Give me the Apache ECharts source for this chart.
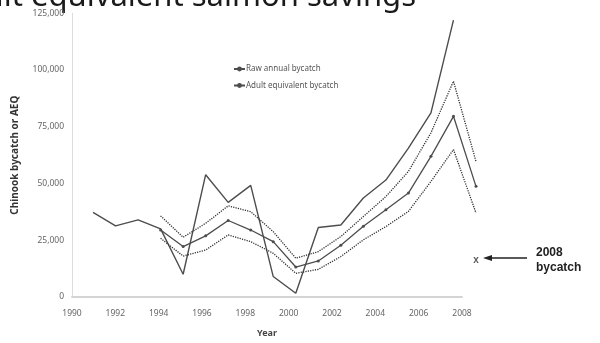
<!DOCTYPE html>
<html>
<head>
<meta charset="utf-8">
<script src="https://cdn.jsdelivr.net/npm/echarts@6/dist/echarts.min.js"></script>
<style>
  html, body { margin: 0; padding: 0; background: #fff; overflow: hidden; }
  #chart { width: 600px; height: 343px; }
</style>
</head>
<body>
<div id="chart"></div>
<script>
// Chinook salmon bycatch by year, with adult-equivalent (AEQ) estimate and its bounds
const years = [1991, 1992, 1993, 1994, 1995, 1996, 1997, 1998, 1999, 2000,
               2001, 2002, 2003, 2004, 2005, 2006, 2007, 2008];
const rawBycatch = [39400, 33600, 36200, 32300, 12800, 55600, 43700, 51000, 11800,
                    4600, 32900, 34000, 45600, 53300, 67000, 82200, 122100];
const aeqYears = [1994, 1995, 1996, 1997, 1998, 1999, 2000, 2001,
                  2002, 2003, 2004, 2005, 2006, 2007, 2008];
const aeqBycatch = [31800, 24700, 29300, 35900, 31800, 26800, 15900, 18500,
                    25300, 33400, 40500, 47700, 63500, 80700, 50600];
const aeqUpper = [37900, 28700, 34700, 42200, 39700, 31100, 19700, 22500,
                  29000, 37600, 46200, 57000, 73600, 95800, 61300];
const aeqLower = [28300, 20600, 23200, 29700, 26800, 21800, 13200, 14900,
                  20400, 27600, 33300, 39800, 52700, 66400, 39100];
const bycatch2008 = [[2008, 19000]];
const yTicks = [0, 25000, 50000, 75000, 100000, 125000];
const xTicks = [1990, 1992, 1994, 1996, 1998, 2000, 2002, 2004, 2006, 2008];

const pair = (xs, ys) => ys.map((v, i) => [xs[i], v]);
const fmt = v => v.toLocaleString('en-US');

const chart = echarts.init(document.getElementById('chart'), null, { renderer: 'canvas', width: 600, height: 343 });
const lineCol = '#4d4d4d';
const dotCol = '#2e2e2e';
const labelCol = '#666';

chart.setOption({
  animation: false,
  backgroundColor: '#fff',
  textStyle: { fontFamily: 'Noto Sans' },
  grid: [
    { left: 72, width: 390, top: 13.3, height: 290.7 },
    { left: 70.5, width: 405.5, top: 13.3, height: 290.7 }
  ],
  xAxis: [
    {
      gridIndex: 0, type: 'value', min: xTicks[0], max: xTicks[xTicks.length - 1], interval: 2,
      name: 'Year', nameLocation: 'middle', nameGap: 32,
      nameTextStyle: { fontSize: 9, fontWeight: 'bold', color: '#444' },
      axisLine: { lineStyle: { color: '#d4d4d4', width: 2 } },
      axisTick: { show: false }, splitLine: { show: false },
      axisLabel: { fontSize: 8.5, color: labelCol, margin: 12, formatter: v => String(v) }
    },
    { gridIndex: 1, type: 'value', min: 1990, max: 2008, show: false, splitLine: { show: false } }
  ],
  yAxis: [
    {
      gridIndex: 0, type: 'value', min: yTicks[0], max: yTicks[yTicks.length - 1], interval: 25000,
      name: 'Chinook bycatch or AEQ', nameLocation: 'middle', nameGap: 52, nameRotate: 90,
      nameTextStyle: { fontSize: 10, fontWeight: 'bold', color: '#333' },
      axisLine: { show: true, lineStyle: { color: '#dcdcdc', width: 1 } },
      axisTick: { show: false }, splitLine: { show: false },
      axisLabel: { fontSize: 8.5, color: labelCol, margin: 8, formatter: v => fmt(v) }
    },
    { gridIndex: 1, type: 'value', min: 0, max: 125000, show: false, splitLine: { show: false } }
  ],
  legend: {
    orient: 'vertical', left: 228, top: 60, itemWidth: 11, itemHeight: 6, itemGap: 8.5,
    textStyle: { fontSize: 8, color: '#555', padding: [0, 0, 0, -4] },
    data: ['Raw annual bycatch', 'Adult equivalent bycatch']
  },
  series: [
    {
      name: 'Raw annual bycatch', type: 'line', xAxisIndex: 1, yAxisIndex: 1,
      data: pair(years, rawBycatch), symbol: 'none',
      lineStyle: { color: lineCol, width: 1.4 }, itemStyle: { color: lineCol }
    },
    {
      name: 'AEQ upper', type: 'line', xAxisIndex: 1, yAxisIndex: 1,
      data: pair(aeqYears, aeqUpper), symbol: 'none',
      lineStyle: { color: dotCol, width: 1.3, type: [1.2, 1.2] }
    },
    {
      name: 'Adult equivalent bycatch', type: 'line', xAxisIndex: 1, yAxisIndex: 1,
      data: pair(aeqYears, aeqBycatch), symbol: 'circle', symbolSize: 3, showSymbol: true,
      lineStyle: { color: lineCol, width: 1.3 }, itemStyle: { color: lineCol }
    },
    {
      name: 'AEQ lower', type: 'line', xAxisIndex: 1, yAxisIndex: 1,
      data: pair(aeqYears, aeqLower), symbol: 'none',
      lineStyle: { color: dotCol, width: 1.3, type: [1.2, 1.2] }
    },
    {
      name: '2008 bycatch', type: 'scatter', xAxisIndex: 1, yAxisIndex: 1,
      data: bycatch2008, symbol: 'circle', symbolSize: 1,
      itemStyle: { color: 'rgba(0,0,0,0)' },
      label: {
        show: true, position: 'inside', formatter: 'x',
        fontSize: 10, fontWeight: 'bold', color: '#333', fontFamily: 'Liberation Sans'
      }
    }
  ],
  graphic: [
    {
      type: 'text', right: 184, top: -18,
      style: {
        text: 'Adult equivalent salmon savings', fontSize: 31,
        fontFamily: 'Noto Sans', fill: '#1a1a1a'
      }
    },
    {
      type: 'line', shape: { x1: 490, y1: 258, x2: 527, y2: 258 },
      style: { stroke: '#222', lineWidth: 1.3 }
    },
    {
      type: 'polygon', shape: { points: [[483, 258], [492, 255], [492, 261]] },
      style: { fill: '#222' }
    },
    {
      type: 'text', left: 536, top: 245,
      style: {
        text: '2008\nbycatch', fontSize: 12, fontWeight: 'bold', lineHeight: 15,
        fontFamily: 'Liberation Sans', fill: '#222'
      }
    }
  ]
});
</script>
</body>
</html>
